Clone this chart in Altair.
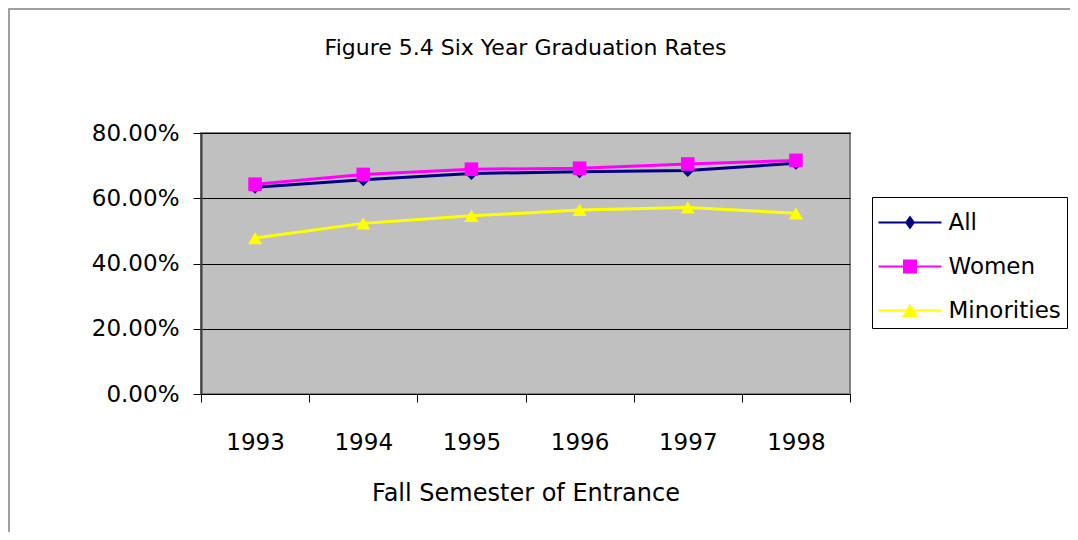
import altair as alt
import pandas as pd

years = ["1993", "1994", "1995", "1996", "1997", "1998"]
series_names = ["All", "Women", "Minorities"]
all_rates = [0.634, 0.657, 0.676, 0.681, 0.685, 0.707]
women_rates = [0.643, 0.673, 0.689, 0.692, 0.705, 0.716]
minority_rates = [0.478, 0.523, 0.546, 0.564, 0.572, 0.554]
series_colors = ["#000080", "#FF00FF", "#FFFF00"]
y_ticks = [0, 0.2, 0.4, 0.6, 0.8]

rows = []
for name, vals in zip(series_names, [all_rates, women_rates, minority_rates]):
    for yr, v in zip(years, vals):
        rows.append({"Year": yr, "Series": name, "Rate": v})
df = pd.DataFrame(rows)

FONT = "DejaVu Sans"

x_enc = alt.X(
    "Year:N",
    sort=years,
    bandPosition=0.5,
    scale=alt.Scale(type="band", paddingInner=0, paddingOuter=0),
    axis=alt.Axis(
        title="Fall Semester of Entrance",
        labelAngle=0,
        tickBand="extent",
        grid=False,
        tickSize=8,
        tickColor="black",
        domainColor="black",
        labelPadding=29,
        labelFontSize=23,
        labelFont=FONT,
        labelColor="black",
        titleFont=FONT,
        titleFontSize=24,
        titleFontWeight="normal",
        titleColor="black",
        titlePadding=27,
    ),
)
y_enc = alt.Y(
    "Rate:Q",
    scale=alt.Scale(domain=[0, 0.8], nice=False),
    axis=alt.Axis(
        title=None,
        values=y_ticks,
        format=".2%",
        grid=True,
        gridColor="black",
        gridWidth=1,
        tickSize=8,
        tickColor="black",
        domainColor="#404040",
        domainWidth=2,
        labelPadding=14,
        labelFontSize=23,
        labelFont=FONT,
        labelColor="black",
    ),
)
color_scale = alt.Scale(domain=series_names, range=series_colors)

base = alt.Chart(df)

lines = base.mark_line(strokeWidth=3).encode(
    x=x_enc,
    y=y_enc,
    color=alt.Color("Series:N", scale=color_scale, legend=None),
    detail="Series:N",
)

points = base.mark_point(filled=True, opacity=1).encode(
    x=x_enc,
    y=y_enc,
    color=alt.Color("Series:N", scale=color_scale, legend=None),
    shape=alt.Shape(
        "Series:N",
        scale=alt.Scale(domain=series_names, range=["diamond", "square", "triangle-up"]),
        legend=None,
    ),
    size=alt.Size(
        "Series:N",
        scale=alt.Scale(domain=series_names, range=[170, 200, 200]),
        legend=None,
    ),
)

legend_shapes = [
    "M-1.575,-0.05L1.575,-0.05L1.575,0.05L-1.575,0.05ZM0,-0.35L0.25,0L0,0.35L-0.25,0Z",
    "M-1.575,-0.05L1.575,-0.05L1.575,0.05L-1.575,0.05ZM-0.35,-0.35L0.35,-0.35L0.35,0.35L-0.35,0.35Z",
    "M-1.575,-0.05L1.575,-0.05L1.575,0.05L-1.575,0.05ZM0,-0.33L0.4,0.33L-0.4,0.33Z",
]

legend_props = dict(
    title=None,
    orient="none",
    legendX=671,
    legendY=64,
    strokeColor="black",
    padding=5.5,
    symbolSize=1600,
    symbolOffset=12.5,
    symbolStrokeWidth=0,
    labelFont=FONT,
    labelFontSize=23,
    labelColor="black",
    labelOffset=18.5,
    rowPadding=12,
    fillColor="white",
)

legend_layer = (
    base.transform_calculate(Key="datum.Series")
    .transform_filter("datum.Rate > 5")
    .mark_point(filled=True, opacity=1)
    .encode(
        x=x_enc,
        y=y_enc,
        color=alt.Color(
            "Key:N",
            scale=alt.Scale(domain=series_names, range=series_colors),
            legend=alt.Legend(**legend_props),
        ),
        shape=alt.Shape(
            "Key:N",
            scale=alt.Scale(domain=series_names, range=legend_shapes),
            legend=alt.Legend(**legend_props),
        ),
    )
)

border = alt.Chart(df).mark_rect(
    fill=None, stroke="#A0A0A0", strokeWidth=2
).encode(
    x=alt.value(-192), x2=alt.value(900), y=alt.value(-124), y2=alt.value(420)
)

chart = (
    alt.layer(border, lines, points, legend_layer)
    .resolve_scale(shape="independent", color="independent", size="independent")
    .properties(
        width=649,
        height=261,
        padding={"left": 193, "top": 125, "right": 220, "bottom": 138},
        autosize=alt.AutoSizeParams(type="none"),
        title=alt.Title(
            "Figure 5.4 Six Year Graduation Rates",
            font=FONT,
            fontSize=22,
            fontWeight="normal",
            color="black",
            offset=-52,
            anchor="middle",
        ),
        background="white",
    )
    .configure_view(fill="#C0C0C0", stroke="#808080", strokeWidth=2)
)

chart.save("out.html", embed_options={"renderer": "svg", "actions": False})
